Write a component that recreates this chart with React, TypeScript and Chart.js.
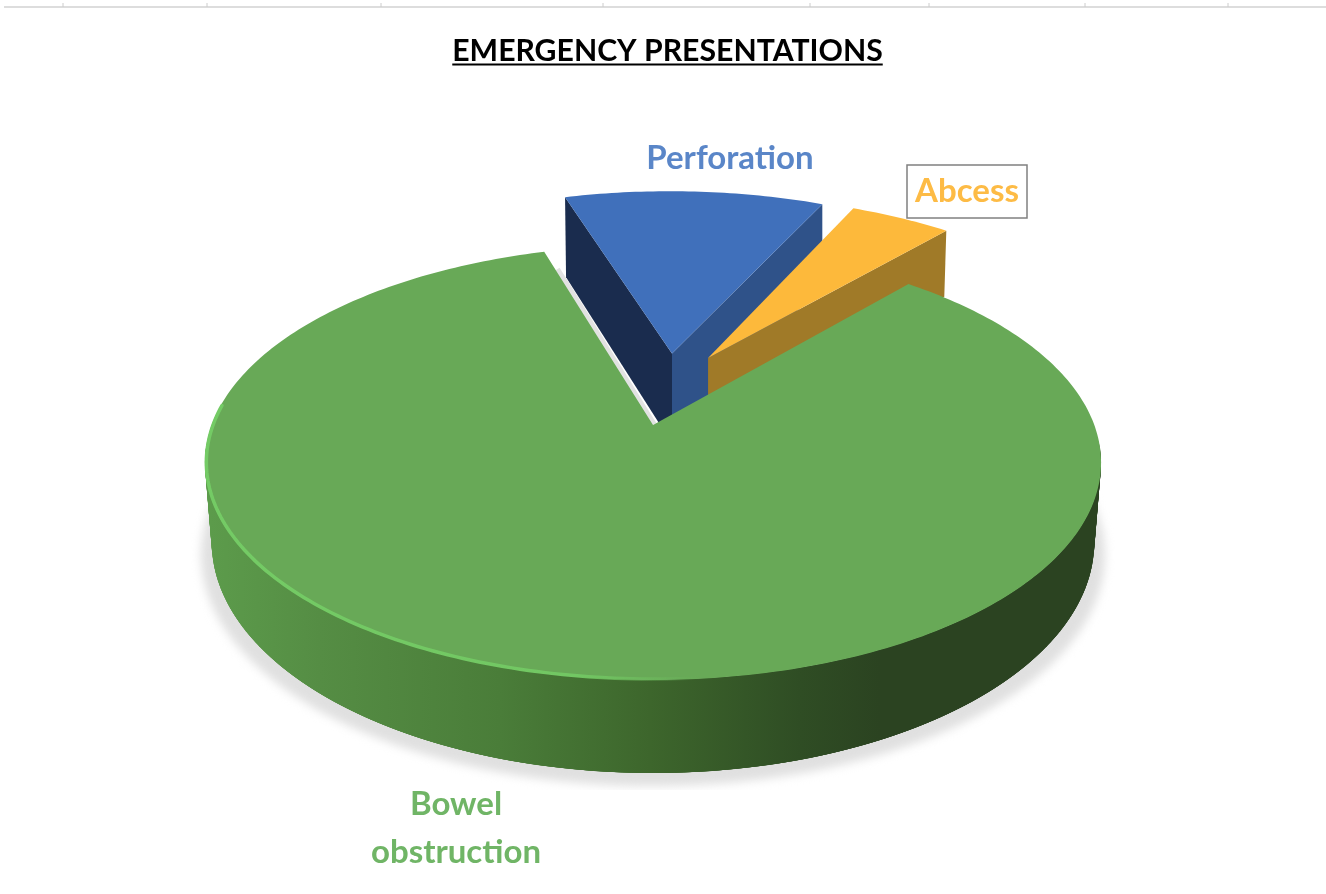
import React, { useEffect, useRef } from "react";
import { Chart, registerables } from "chart.js";

Chart.register(...registerables);

const titleText = "EMERGENCY PRESENTATIONS";
const categories = ["Perforation", "Abcess", "Bowel obstruction"];
const shares = [11.5, 4.5, 84];
const topColours = ["#4070bb", "#fdb93b", "#68a957"];
const textColours = ["#5a86c8", "#fdbb45", "#70b566"];
const startRotation = -16.7;

const rulerTicks = [63, 207, 381, 603, 810, 929, 1085, 1228];

// perspective of the disc on the page
const CX = 653;
const K = 441.3;
const PY = -0.173;
const AY = 137.3;
const BY = 425;
const project = (u: number, v: number): [number, number] => {
  const w = 1 + PY * v;
  return [CX + (K * u) / w, (AY * v + BY) / w];
};
const GREEN_DEPTH = 77;
const below = (u: number, v: number): [number, number] => {
  const [x, y] = project(u, v);
  const w = 1 + PY * v;
  return [CX + (x - CX) * 0.985, y + GREEN_DEPTH / w];
};
const explode = [
  [0.0457, -0.36],
  [0.132, -0.336],
  [0, 0],
];
const sliceRadius = [1.012, 1.006, 1];
const sliceDepth = [80, 66, 0];

function arcPts(start: number, end: number, ox: number, oy: number, r = 1) {
  const n = Math.max(8, Math.ceil(Math.abs(end - start) * 60));
  const pts: [number, number][] = [];
  for (let i = 0; i <= n; i++) {
    const a = start + ((end - start) * i) / n;
    pts.push([ox + r * Math.cos(a), oy + r * Math.sin(a)]);
  }
  return pts;
}

function poly(ctx: CanvasRenderingContext2D, pts: [number, number][], fill: any) {
  ctx.beginPath();
  pts.forEach((p, i) => (i ? ctx.lineTo(p[0], p[1]) : ctx.moveTo(p[0], p[1])));
  ctx.closePath();
  ctx.fillStyle = fill;
  ctx.fill();
}

const perspectivePie = {
  id: "perspectivePie",
  beforeDatasetsDraw(chart: any) {
    const ctx: CanvasRenderingContext2D = chart.ctx;
    const arcs = chart.getDatasetMeta(0).data;
    const geo = arcs.map((el: any) => el.getProps(["startAngle", "endAngle"], true));

    // ruler strip at the top of the page
    ctx.save();
    ctx.strokeStyle = "#dddddd";
    ctx.lineWidth = 2;
    ctx.beginPath();
    ctx.moveTo(4, 7);
    ctx.lineTo(1326, 7);
    ctx.stroke();
    ctx.strokeStyle = "#cccccc";
    ctx.lineWidth = 1;
    rulerTicks.forEach((x) => {
      ctx.beginPath();
      ctx.moveTo(x, 3);
      ctx.lineTo(x, 7);
      ctx.stroke();
    });
    ctx.restore();

    // soft shadow under the disc
    const gs = geo[2];
    ctx.save();
    ctx.beginPath();
    ctx.rect(0, 470, 1326, 320);
    ctx.clip();
    (ctx as any).filter = "blur(5px)";
    const shadow = arcPts(0, Math.PI * 2, 0, 0).map(([u, v]) => {
      const [x, y] = below(u, v);
      return [CX + (x - CX) * 1.024, y + 13] as [number, number];
    });
    poly(ctx, shadow, "#e0e0e0");
    ctx.restore();

    // exploded slices: walls first, then the top face
    [0, 1].forEach((i) => {
      const { startAngle, endAngle } = geo[i];
      const [ox, oy] = explode[i];
      const depth = sliceDepth[i];
      const r = sliceRadius[i];
      const A = project(ox, oy);
      const S = project(ox + r * Math.cos(startAngle), oy + r * Math.sin(startAngle));
      const E = project(ox + r * Math.cos(endAngle), oy + r * Math.sin(endAngle));
      if (i === 0) {
        poly(ctx, [S, A, [A[0], A[1] + depth + 10], [S[0] + 1, S[1] + depth]], "#1a2c4e");
        poly(ctx, [A, E, [E[0], E[1] + depth], [A[0], A[1] + depth + 10]], "#2f5289");
      } else {
        poly(ctx, [A, E, [E[0] - 2, E[1] + depth], [A[0], A[1] + depth + 10]], "#a07a28");
      }
      const top = arcPts(startAngle, endAngle, ox, oy, r).map(([u, v]) => project(u, v));
      poly(ctx, [A, ...top], arcs[i].options.backgroundColor);
    });

    // green slice
    const A = project(0, 0);
    const E = project(Math.cos(gs.endAngle), Math.sin(gs.endAngle));

    // pale sliver along the left cut
    ctx.save();
    ctx.strokeStyle = "#e2e2e2";
    ctx.lineWidth = 8;
    ctx.beginPath();
    ctx.moveTo(E[0] + 12, E[1] + 18);
    ctx.lineTo(A[0], A[1]);
    ctx.stroke();
    ctx.restore();

    const outer = arcPts(gs.startAngle, gs.endAngle, 0, 0);
    const grad = ctx.createLinearGradient(210, 0, 1097, 0);
    grad.addColorStop(0, "#5c9b4b");
    grad.addColorStop(0.124, "#558d44");
    grad.addColorStop(0.327, "#4a7d39");
    grad.addColorStop(0.496, "#3d662c");
    grad.addColorStop(0.665, "#2f4d24");
    grad.addColorStop(0.755, "#2b4321");
    grad.addColorStop(1, "#2b4321");
    // only the front of the wall can be seen; overlapping quads hide the seams
    const front = arcPts((5 * Math.PI) / 180, (175 * Math.PI) / 180, 0, 0);
    for (let i = 0; i + 1 < front.length; i++) {
      const [u0, v0] = front[i];
      const [u1, v1] = front[Math.min(i + 4, front.length - 1)];
      poly(ctx, [project(u0, v0), project(u1, v1), below(u1, v1), below(u0, v0)], grad);
    }
    poly(ctx, [A, ...outer.map(([u, v]) => project(u, v))], arcs[2].options.backgroundColor);

    // bright bevel on the lit side of the rim
    ctx.save();
    const rim = ctx.createLinearGradient(204, 0, 700, 0);
    rim.addColorStop(0, "#74cb65");
    rim.addColorStop(0.75, "#72c763");
    rim.addColorStop(1, "rgba(114,199,99,0)");
    ctx.strokeStyle = rim;
    ctx.lineWidth = 3.5;
    ctx.lineCap = "round";
    (ctx as any).filter = "blur(0.7px)";
    ctx.beginPath();
    arcPts(Math.PI * 0.47, Math.PI * 1.03, 0, 0, 0.997).forEach(([u, v], i) => {
      const [x, y] = project(u, v);
      if (i) ctx.lineTo(x, y);
      else ctx.moveTo(x, y);
    });
    ctx.stroke();
    ctx.restore();

    return false;
  },
  afterDraw(chart: any) {
    const ctx: CanvasRenderingContext2D = chart.ctx;
    ctx.save();
    // title underline
    const t = chart.titleBlock;
    ctx.font = `bold ${t.options.font.size}px ${t.options.font.family}`;
    const tw = ctx.measureText(titleText).width;
    const mid = (t.left + t.right) / 2;
    ctx.fillStyle = "#000000";
    ctx.fillRect(mid - tw / 2, 63.5, tw, 2);

    // slice labels
    ctx.font = "bold 33px Lato";
    ctx.textAlign = "center";
    ctx.textBaseline = "middle";
    ctx.fillStyle = textColours[0];
    ctx.fillText(categories[0], 730, 158);
    ctx.fillStyle = textColours[1];
    ctx.fillText(categories[1], 967, 191);
    ctx.strokeStyle = "#808080";
    ctx.lineWidth = 1.5;
    ctx.strokeRect(907, 165, 120, 53);
    ctx.fillStyle = textColours[2];
    const [l1, l2] = categories[2].split(" ");
    ctx.fillText(l1, 456, 804);
    ctx.fillText(l2, 456, 852);
    ctx.restore();
  },
};

export default function App() {
  const ref = useRef<HTMLCanvasElement | null>(null);
  useEffect(() => {
    document.body.style.margin = "0";
    document.body.style.background = "#ffffff";
    const chart = new Chart(ref.current as HTMLCanvasElement, {
      type: "pie",
      data: {
        labels: categories,
        datasets: [{ data: shares, backgroundColor: topColours, borderWidth: 0 }],
      },
      options: {
        responsive: false,
        animation: false,
        rotation: startRotation,
        layout: { padding: { left: 9 } },
        plugins: {
          legend: { display: false },
          tooltip: { enabled: false },
          title: {
            display: true,
            text: titleText,
            color: "#000000",
            font: { family: "Lato", size: 30.2, weight: "bold" },
            padding: { top: 33, bottom: 10 },
          },
        },
      },
      plugins: [perspectivePie],
    } as any);
    return () => chart.destroy();
  }, []);
  return (
    <canvas
      ref={ref}
      width={1326}
      height={894}
      style={{ display: "block", width: 1326, height: 894, filter: "blur(0.6px)" }}
    />
  );
}
